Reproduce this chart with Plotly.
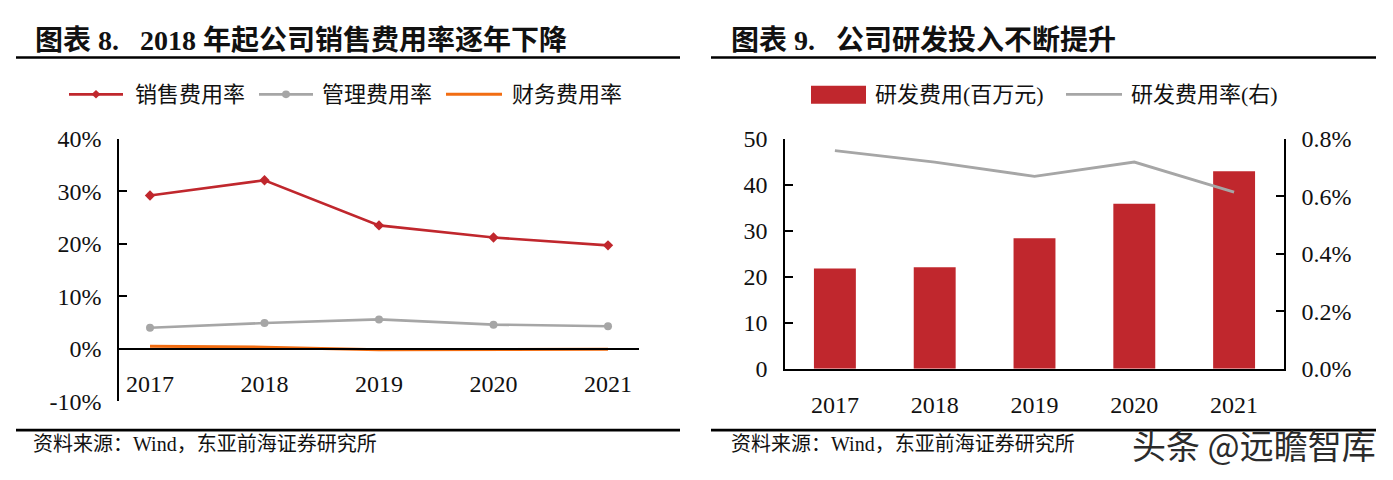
import plotly.graph_objects as go

# ---------------- data ----------------
years = ["2017", "2018", "2019", "2020", "2021"]

# left chart (%)
sales_rate = [29.2, 32.1, 23.5, 21.2, 19.7]
admin_rate = [4.0, 4.9, 5.6, 4.6, 4.3]
finance_rate = [0.5, 0.3, -0.2, -0.2, -0.1]
left_names = ["销售费用率", "管理费用率", "财务费用率"]
left_ticks = [-10, 0, 10, 20, 30, 40]

# right chart
rd_expense = [21.8, 22.1, 28.4, 35.9, 43.0]        # 百万元
rd_rate = [0.76, 0.72, 0.67, 0.72, 0.615]           # %
right_names = ["研发费用(百万元)", "研发费用率(右)"]
right_left_ticks = [0, 10, 20, 30, 40, 50]
right_right_ticks = [0.0, 0.2, 0.4, 0.6, 0.8]

title_left = "图表 8.   2018 年起公司销售费用率逐年下降"
title_right = "图表 9.   公司研发投入不断提升"
source_text = "资料来源：Wind，东亚前海证券研究所"
watermark = "头条 @远瞻智库"

# ---------------- style ----------------
W, H = 1393, 480
RED = "#C0272D"
GRAY = "#A6A6A6"
ORANGE = "#F26D12"
SERIF = "Liberation Serif, Noto Sans CJK SC, serif"
TXT = "#111111"


def px(x):
    return x / W


def py(y):
    return 1 - y / H


fig = go.Figure()

# left chart traces
fig.add_trace(go.Scatter(x=years, y=sales_rate, name=left_names[0], mode="lines+markers",
                         line=dict(color=RED, width=2.6),
                         marker=dict(symbol="diamond", size=8, color=RED),
                         xaxis="x", yaxis="y", showlegend=False))
fig.add_trace(go.Scatter(x=years, y=admin_rate, name=left_names[1], mode="lines+markers",
                         line=dict(color=GRAY, width=2.6),
                         marker=dict(symbol="circle", size=8, color=GRAY),
                         xaxis="x", yaxis="y", showlegend=False))
fig.add_trace(go.Scatter(x=years, y=finance_rate, name=left_names[2], mode="lines",
                         line=dict(color=ORANGE, width=3),
                         xaxis="x", yaxis="y", showlegend=False))

# right chart traces
fig.add_trace(go.Bar(x=years, y=rd_expense, name=right_names[0], width=0.42,
                     marker=dict(color=RED, line=dict(width=0)),
                     xaxis="x2", yaxis="y2", showlegend=False))
fig.add_trace(go.Scatter(x=years, y=rd_rate, name=right_names[1], mode="lines",
                         line=dict(color=GRAY, width=2.8),
                         xaxis="x2", yaxis="y3", showlegend=False))

# ---------------- axes ----------------
tickfont = dict(family=SERIF, size=24, color=TXT)

L_y0, L_y1 = 410.5, 133.0      # pixel rows for -10% and 40%
yL_dom = [py(L_y0), py(L_y1)]
zero_pos = yL_dom[0] + (0 - left_ticks[0]) / (left_ticks[-1] - left_ticks[0]) * (yL_dom[1] - yL_dom[0])

R_y0, R_y1 = 376.0, 133.3

axis_common = dict(showline=True, linecolor="black", linewidth=1.5,
                   showgrid=False, zeroline=False, tickfont=tickfont)
ytick_common = dict(ticks="inside", ticklen=8, tickwidth=1.5, tickcolor="black",
                    ticklabelstandoff=11)

fig.update_layout(
    width=W, height=H, autosize=False,
    margin=dict(l=0, r=0, t=0, b=0),
    paper_bgcolor="white", plot_bgcolor="white",
    xaxis=dict(domain=[px(119), px(639)], anchor="free", position=zero_pos,
               type="category", ticks="", ticklabelstandoff=14, **axis_common),
    yaxis=dict(domain=yL_dom, anchor="x", range=[left_ticks[0], left_ticks[-1]],
               tickvals=left_ticks, ticktext=[f"{v}%" for v in left_ticks],
               **ytick_common, **axis_common),
    xaxis2=dict(domain=[px(785), px(1284)], anchor="y2", type="category",
                ticks="", ticklabelstandoff=14, **axis_common),
    yaxis2=dict(domain=[py(R_y0), py(R_y1)], anchor="x2",
                range=[right_left_ticks[0], right_left_ticks[-1]],
                tickvals=right_left_ticks, ticktext=[str(v) for v in right_left_ticks],
                **ytick_common, **axis_common),
    yaxis3=dict(domain=[py(R_y0), py(R_y1)], anchor="x2", overlaying="y2", side="right",
                range=[right_right_ticks[0], right_right_ticks[-1]],
                tickvals=right_right_ticks, ticktext=[f"{v:.1f}%" for v in right_right_ticks],
                **ytick_common, **axis_common),
)

# ---------------- titles, rules, sources ----------------
shapes = []
annotations = []


def hline(x0, x1, y, w, color="black"):
    shapes.append(dict(type="line", xref="paper", yref="paper",
                       x0=px(x0), x1=px(x1), y0=py(y), y1=py(y),
                       line=dict(color=color, width=w)))


def text(x, y, s, size, bold=False, color=TXT, family=SERIF, xanchor="left"):
    annotations.append(dict(xref="paper", yref="paper", x=px(x), y=py(y), text=(f"<b>{s}</b>" if bold else s),
                            showarrow=False, xanchor=xanchor, yanchor="middle",
                            font=dict(family=family, size=size, color=color)))


hline(16, 680, 47, 2.6)
hline(711, 1376, 47, 2.6)
hline(16, 680, 441, 2.6)
hline(711, 1376, 441, 2.6)

text(33, 29, title_left, 28, bold=True)
text(729, 29, title_right, 28, bold=True)
text(31, 456, source_text, 20)
text(729, 456, source_text, 20)

# ---------------- legends (drawn) ----------------
LEG_Y = 86
LEG_FS = 22
# left
hline(69, 123, LEG_Y, 2.6, RED)
d = 4.5
shapes.append(dict(type="path", xref="paper", yref="paper",
                   path=f"M {px(96)},{py(LEG_Y - d)} L {px(96 + d)},{py(LEG_Y)} L {px(96)},{py(LEG_Y + d)} L {px(96 - d)},{py(LEG_Y)} Z",
                   fillcolor=RED, line=dict(width=0)))
text(133, LEG_Y, left_names[0], LEG_FS)
hline(259, 313, LEG_Y, 2.6, GRAY)
shapes.append(dict(type="circle", xref="paper", yref="paper",
                   x0=px(286 - 4), x1=px(286 + 4), y0=py(LEG_Y + 4), y1=py(LEG_Y - 4),
                   fillcolor=GRAY, line=dict(width=0)))
text(320, LEG_Y, left_names[1], LEG_FS)
hline(446, 502, LEG_Y, 3, ORANGE)
text(510, LEG_Y, left_names[2], LEG_FS)
# right
shapes.append(dict(type="rect", xref="paper", yref="paper",
                   x0=px(811), x1=px(866), y0=py(96), y1=py(77),
                   fillcolor=RED, line=dict(width=0)))
text(873, LEG_Y, right_names[0], LEG_FS)
hline(1066, 1122, LEG_Y, 2.8, GRAY)
text(1129, LEG_Y, right_names[1], LEG_FS)

# watermark
annotations.append(dict(xref="paper", yref="paper", x=px(1378), y=py(456), text=watermark,
                        showarrow=False, xanchor="right", yanchor="middle",
                        font=dict(family="Noto Sans CJK SC, sans-serif", size=34, color="#2b2b2b")))

fig.update_layout(shapes=shapes, annotations=annotations)

fig.write_html("out.html",
               config={"displayModeBar": False},
               post_script="document.body.style.margin='0';document.body.style.padding='0';")
